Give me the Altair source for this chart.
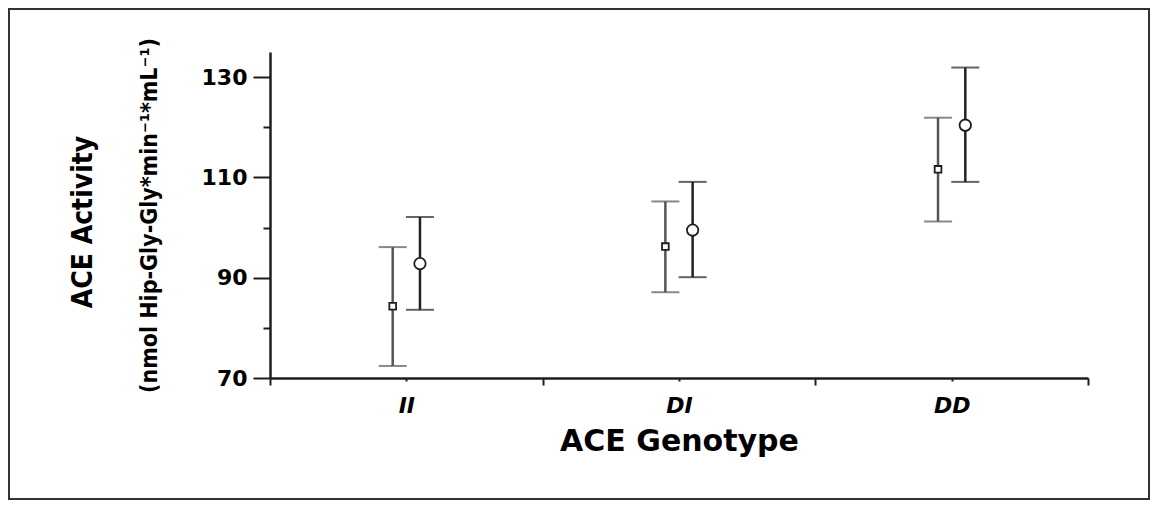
import altair as alt
import pandas as pd

genotypes = ["II", "DI", "DD"]
groups = ["A", "B"]
mean_a = [84.3, 96.2, 111.6]
low_a = [72.4, 87.1, 101.2]
high_a = [96.1, 105.2, 121.9]
mean_b = [92.8, 99.5, 120.4]
low_b = [83.6, 90.1, 109.1]
high_b = [102.1, 109.1, 131.9]

rows = []
for g, m, lo, hi in [("A", mean_a, low_a, high_a), ("B", mean_b, low_b, high_b)]:
    for i, gt in enumerate(genotypes):
        rows.append({"genotype": gt, "group": g, "mean": m[i], "low": lo[i], "high": hi[i]})
df = pd.DataFrame(rows)

COND = "'Liberation Sans Narrow', 'DejaVu Sans Condensed', 'Roboto Condensed', sans-serif"
WIDE = "DejaVu Sans"
INK = "#1e1e1e"

xscale = alt.Scale(domain=[0, 6], nice=False, zero=False)
yscale = alt.Scale(domain=[70, 135], nice=False, zero=False)

xaxis = alt.Axis(
    values=[0, 1, 2, 3, 4, 5, 6],
    labelExpr="datum.value == 1 ? 'II' : datum.value == 3 ? 'DI' : datum.value == 5 ? 'DD' : ''",
    tickSize={"condition": {"test": "datum.value % 2 == 0", "value": 7}, "value": 3},
    tickColor=INK, tickWidth=2,
    domainColor=INK, domainWidth=2.5,
    labelFont=WIDE, labelFontSize=22, labelFontWeight="bold", labelFontStyle="italic",
    labelColor="#000", labelPadding=14, labelBaseline="top",
    title="ACE Genotype", titleFont=WIDE, titleFontSize=30, titleFontWeight="bold",
    titleColor="#000", titlePadding=10, grid=False,
)
yaxis = alt.Axis(
    values=list(range(70, 136, 5)),
    labelExpr="(datum.value - 70) % 20 == 0 ? datum.label : ''",
    tickSize={"condition": {"test": "(datum.value - 70) % 20 == 0", "value": 17}, "value": 7},
    tickColor=INK, tickWidth=2,
    domainColor=INK, domainWidth=2.5,
    labelFont=WIDE, labelFontSize=22, labelFontWeight="bold", labelColor="#000",
    labelPadding=6,
    title="(nmol Hip-Gly-Gly*min⁻¹*mL⁻¹)", titleFont=COND, titleFontSize=23,
    titleFontWeight="bold", titleColor="#000", titlePadding=40, grid=False,
)

base = alt.Chart(df).transform_calculate(
    pos="indexof(['II','DI','DD'], datum.genotype) * 2 + 1 + (datum.group == 'A' ? -0.1 : 0.1)"
)

grp_color = alt.Color("group:N", scale=alt.Scale(domain=groups, range=["#555555", "#222222"]), legend=None)

bars = base.mark_rule(strokeWidth=2.5).encode(
    x=alt.X("pos:Q", scale=xscale, axis=xaxis),
    y=alt.Y("low:Q", scale=yscale, axis=yaxis),
    y2="high:Q",
    color=grp_color,
)
caps_lo = base.mark_tick(orient="horizontal", size=28, thickness=2).encode(
    x="pos:Q", y="low:Q", color=grp_color,
)
caps_hi = base.mark_tick(orient="horizontal", size=28, thickness=2).encode(
    x="pos:Q", y="high:Q", color=grp_color,
)
points = base.mark_point(filled=True, fill="white", stroke=INK, strokeWidth=1.8, opacity=1).encode(
    x="pos:Q", y="mean:Q",
    shape=alt.Shape("group:N", scale=alt.Scale(domain=groups, range=["square", "circle"]), legend=None),
    size=alt.Size("group:N", scale=alt.Scale(domain=groups, range=[45, 130]), legend=None),
)

frame = alt.Chart(pd.DataFrame({"k": [0]})).mark_rect(
    fill=None, stroke="#333333", strokeWidth=2
).encode(
    x=alt.value(-261), x2=alt.value(879), y=alt.value(-43), y2=alt.value(447)
)

chart = alt.layer(frame, bars, caps_lo, caps_hi, points).properties(
    width=818, height=326,
    background="white",
    autosize=alt.AutoSizeParams(type="none"),
    padding={"left": 262, "top": 44, "right": 62, "bottom": 122},
    title=alt.TitleParams(
        text="ACE Activity", orient="left", anchor="middle", frame="group",
        font=COND, fontSize=28, fontWeight="bold", color="#000", offset=-90, dx=-7,
    ),
).configure_view(stroke=None)

chart.save("out.html", embed_options={"renderer": "svg", "actions": False})
